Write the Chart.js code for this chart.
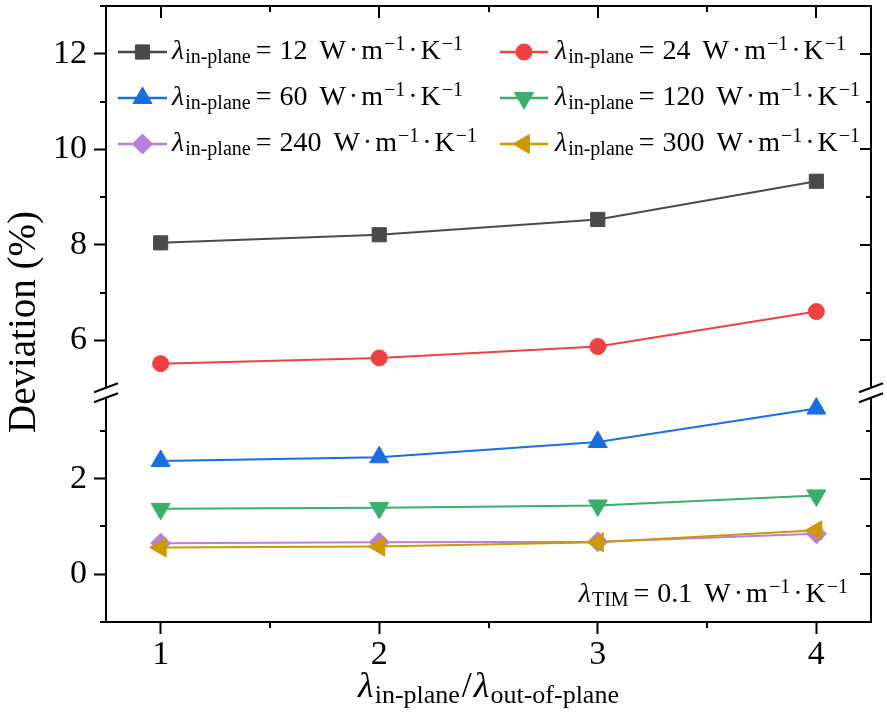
<!DOCTYPE html>
<html>
<head>
<meta charset="utf-8">
<script src="https://cdn.jsdelivr.net/npm/chart.js@4.4.1/dist/chart.umd.min.js"></script>
<style>
html,body{margin:0;padding:0;background:#fff;}
#wrap{width:887px;height:720px;}
</style>
</head>
<body>
<div id="wrap"><canvas id="c" width="887" height="720"></canvas></div>
<script>
// ---------- data ----------
const ratios = [1, 2, 3, 4];
const conductivities = [12, 24, 60, 120, 240, 300];
const dev12  = [8.04, 8.21, 8.53, 9.33];
const dev24  = [5.51, 5.63, 5.87, 6.60];
const dev60  = [2.37, 2.45, 2.77, 3.47];
const dev120 = [1.37, 1.39, 1.44, 1.65];
const dev240 = [0.65, 0.67, 0.68, 0.85];
const dev300 = [0.56, 0.58, 0.67, 0.92];
const timConductivity = 0.1;
const xTickValues = [1, 2, 3, 4];
const upperTickValues = [6, 8, 10, 12];
const lowerTickValues = [0, 2];
const xMinorValues = [1.5, 2.5, 3.5];
const upperMinorValues = [5, 7, 9, 11, 13];
const lowerMinorValues = [-1, 1, 3];
const yTitle = 'Deviation (%)';

// ---------- style ----------
const FONT = "'Liberation Serif', 'Times New Roman', serif";
const X_RANGE = [0.75, 4.25];
const LOW_RANGE = [-1, 3.8];
const UP_RANGE = [4.9, 13];
const seriesValues = [dev12, dev24, dev60, dev120, dev240, dev300];
const seriesAxis = ['yUp', 'yUp', 'yLow', 'yLow', 'yLow', 'yLow'];
const colors = ['#4a4a4a', '#f04142', '#1a6fdf', '#3aae6b', '#b77ee0', '#cc9900'];
const pointStyles = ['rect', 'circle', 'triangle', 'triangle', 'rectRot', 'triangle'];
const pointRotations = [0, 0, 0, 180, 0, -90];
const pointRadii = [10, 8, 11, 11, 10, 11];

const datasets = seriesValues.map((vals, i) => ({
  label: 'λin-plane = ' + conductivities[i],
  data: ratios.map((r, j) => ({x: r, y: vals[j]})),
  yAxisID: seriesAxis[i],
  xAxisID: 'x',
  borderColor: colors[i],
  backgroundColor: colors[i],
  pointBackgroundColor: colors[i],
  pointBorderColor: colors[i],
  pointBorderWidth: 1,
  pointStyle: pointStyles[i],
  rotation: pointRotations[i],
  pointRotation: pointRotations[i],
  pointRadius: pointRadii[i],
  pointHoverRadius: pointRadii[i],
  borderWidth: 2,
  tension: 0,
  clip: false,
  order: seriesValues.length - i
}));

// ---------- rich text helpers ----------
function setFont(ctx, s) {
  ctx.font = (s.it ? 'italic ' : '') + s.size + 'px ' + FONT;
}
function richWidth(ctx, segs) {
  let w = 0;
  for (const s of segs) {
    if (s.gap !== undefined) { w += s.gap; continue; }
    setFont(ctx, s);
    w += ctx.measureText(s.t).width;
  }
  return w;
}
function drawRich(ctx, x, baseline, segs) {
  let cx = x;
  ctx.textBaseline = 'alphabetic';
  ctx.textAlign = 'left';
  for (const s of segs) {
    if (s.gap !== undefined) { cx += s.gap; continue; }
    setFont(ctx, s);
    ctx.fillText(s.t, cx, baseline + (s.dy || 0));
    cx += ctx.measureText(s.t).width;
  }
  return cx;
}
function unitSegs() {
  return [
    {t: 'W', size: 28}, {gap: 3}, {t: '·', size: 28}, {gap: 3}, {t: 'm', size: 28}, {gap: 1},
    {t: '−1', size: 20, dy: -9}, {gap: 3}, {t: '·', size: 28}, {gap: 3}, {t: 'K', size: 28}, {gap: 1},
    {t: '−1', size: 20, dy: -9}
  ];
}
function lambdaSegs(sub, value) {
  return [
    {t: 'λ', size: 28, it: true}, {gap: 1}, {t: sub, size: 20, dy: 4}, {gap: 5},
    {t: '=', size: 28}, {gap: 8}, {t: String(value), size: 28}, {gap: 12}
  ].concat(unitSegs());
}

function drawMarker(ctx, style, x, y, r, rotDeg) {
  const rad = rotDeg * Math.PI / 180;
  ctx.beginPath();
  if (style === 'circle') {
    ctx.arc(x, y, r, 0, Math.PI * 2);
  } else if (style === 'rect') {
    const s = Math.SQRT1_2 * r;
    ctx.rect(x - s, y - s, 2 * s, 2 * s);
  } else if (style === 'rectRot') {
    ctx.moveTo(x - r, y); ctx.lineTo(x, y - r); ctx.lineTo(x + r, y); ctx.lineTo(x, y + r);
  } else if (style === 'triangle') {
    let a = rad;
    ctx.moveTo(x + Math.sin(a) * r, y - Math.cos(a) * r);
    a += 2 * Math.PI / 3;
    ctx.lineTo(x + Math.sin(a) * r, y - Math.cos(a) * r);
    a += 2 * Math.PI / 3;
    ctx.lineTo(x + Math.sin(a) * r, y - Math.cos(a) * r);
  }
  ctx.closePath();
  ctx.fill();
  ctx.stroke();
}

// ---------- decoration plugin ----------
const decor = {
  id: 'decor',
  afterDraw(chart) {
    const {ctx, chartArea: ca, scales} = chart;
    const xs = scales.x, yU = scales.yUp, yL = scales.yLow;
    const L = Math.round(ca.left), R = Math.round(ca.right), T = Math.round(ca.top), B = Math.round(ca.bottom);
    const breakY = yL.top;
    ctx.save();
    ctx.strokeStyle = '#000';
    ctx.fillStyle = '#000';
    ctx.lineWidth = 2;
    ctx.lineCap = 'butt';
    const line = (x1, y1, x2, y2) => { ctx.beginPath(); ctx.moveTo(x1, y1); ctx.lineTo(x2, y2); ctx.stroke(); };
    // frame top & right
    line(L, T, R + 1, T);
    line(R, T, R, B + 1);
    // top ticks (inward)
    xTickValues.forEach(v => { const px = Math.round(xs.getPixelForValue(v)); line(px, T, px, T + 12); });
    xMinorValues.forEach(v => {
      const px = Math.round(xs.getPixelForValue(v));
      line(px, T, px, T + 6);
      line(px, B, px, B + 6);
    });
    // right major ticks (inward)
    upperTickValues.forEach(v => { const py = Math.round(yU.getPixelForValue(v)); line(R, py, R - 11, py); });
    lowerTickValues.forEach(v => { const py = Math.round(yL.getPixelForValue(v)); line(R, py, R - 11, py); });
    // minor y ticks
    const minor = (scale, v) => {
      const py = Math.round(scale.getPixelForValue(v));
      if (Math.abs(py - breakY) < 10) return;
      line(L, py, L - 6, py);
      line(R, py, R - 5, py);
    };
    upperMinorValues.forEach(v => minor(yU, v));
    lowerMinorValues.forEach(v => minor(yL, v));
    // axis breaks
    const brk = (x) => {
      const hw = 12, sl = 4.5, g = 5;
      ctx.fillStyle = '#fff';
      ctx.beginPath();
      ctx.moveTo(x - hw, breakY - g + sl);
      ctx.lineTo(x + hw, breakY - g - sl);
      ctx.lineTo(x + hw, breakY + g - sl);
      ctx.lineTo(x - hw, breakY + g + sl);
      ctx.closePath();
      ctx.fill();
      ctx.lineWidth = 2.2;
      line(x - hw, breakY - g + sl, x + hw, breakY - g - sl);
      line(x - hw, breakY + g + sl, x + hw, breakY + g - sl);
      ctx.lineWidth = 2;
    };
    brk(L); brk(R);

    ctx.fillStyle = '#000';
    // y title
    ctx.save();
    ctx.translate(35, (T + B) / 2 + 8);
    ctx.rotate(-Math.PI / 2);
    ctx.font = '39px ' + FONT;
    ctx.textAlign = 'center';
    ctx.textBaseline = 'alphabetic';
    ctx.fillText(yTitle, 0, 0);
    ctx.restore();

    // x title
    const xt = [
      {t: 'λ', size: 36, it: true}, {gap: 1}, {t: 'in-plane', size: 26, dy: 6}, {gap: 2},
      {t: '/', size: 36}, {gap: 2},
      {t: 'λ', size: 36, it: true}, {gap: 1}, {t: 'out-of-plane', size: 26, dy: 6}
    ];
    const xw = richWidth(ctx, xt);
    drawRich(ctx, (L + R) / 2 - xw / 2, 697, xt);

    // legend
    const colX = [[118, 167, 172], [500, 548, 555]];
    const rowY = [52, 98, 144];
    chart.data.datasets.forEach((ds, i) => {
      const c = colX[i % 2], cy = rowY[Math.floor(i / 2)];
      ctx.strokeStyle = colors[i];
      ctx.lineWidth = 2.5;
      line(c[0], cy, c[1], cy);
      ctx.fillStyle = colors[i];
      ctx.lineWidth = 1;
      drawMarker(ctx, pointStyles[i], (c[0] + c[1]) / 2, cy, pointRadii[i], pointRotations[i]);
      ctx.fillStyle = '#000';
      drawRich(ctx, c[2], cy + 7, lambdaSegs('in-plane', conductivities[i]));
    });

    // annotation
    const an = [
      {t: 'λ', size: 28, it: true}, {gap: 1}, {t: 'TIM', size: 20, dy: 4}, {gap: 5},
      {t: '=', size: 28}, {gap: 8}, {t: String(timConductivity), size: 28}, {gap: 12}
    ].concat(unitSegs());
    const aw = richWidth(ctx, an);
    ctx.fillStyle = '#000';
    drawRich(ctx, 848 - aw, 602, an);
    ctx.restore();
  }
};

const tickFont = {family: FONT, size: 34};
const noPad = s => { s.paddingTop = 0; s.paddingBottom = 0; s.paddingLeft = 0; s.paddingRight = 0; };
const yCommon = {
  type: 'linear',
  position: 'left',
  stack: 'dev',
  ticks: {font: tickFont, color: '#000', padding: 7, callback: v => String(v)},
  grid: {drawOnChartArea: false, drawTicks: true, tickLength: 12, tickWidth: 2, tickColor: '#000'},
  border: {display: true, color: '#000', width: 2},
  afterFit: s => { s.width = 106; noPad(s); }
};

new Chart(document.getElementById('c'), {
  type: 'line',
  data: {datasets},
  options: {
    responsive: false,
    devicePixelRatio: 1,
    animation: false,
    layout: {autoPadding: false, padding: {left: 0, top: 6, right: 16, bottom: 0}},
    plugins: {legend: {display: false}, tooltip: {enabled: false}},
    scales: {
      x: {
        type: 'linear',
        position: 'bottom',
        min: X_RANGE[0], max: X_RANGE[1],
        afterBuildTicks: s => { s.ticks = xTickValues.map(v => ({value: v})); },
        ticks: {font: tickFont, color: '#000', padding: 1, maxRotation: 0, callback: v => String(v)},
        grid: {drawOnChartArea: false, drawTicks: true, tickLength: 12, tickWidth: 2, tickColor: '#000'},
        border: {display: true, color: '#000', width: 2},
        afterFit: s => { s.height = 98; noPad(s); }
      },
      yLow: Object.assign({}, yCommon, {
        min: LOW_RANGE[0], max: LOW_RANGE[1],
        stackWeight: LOW_RANGE[1] - LOW_RANGE[0],
        afterBuildTicks: s => { s.ticks = lowerTickValues.map(v => ({value: v})); }
      }),
      yUp: Object.assign({}, yCommon, {
        min: UP_RANGE[0], max: UP_RANGE[1],
        stackWeight: UP_RANGE[1] - UP_RANGE[0],
        afterBuildTicks: s => { s.ticks = upperTickValues.map(v => ({value: v})); }
      })
    }
  },
  plugins: [decor]
});
</script>
</body>
</html>
